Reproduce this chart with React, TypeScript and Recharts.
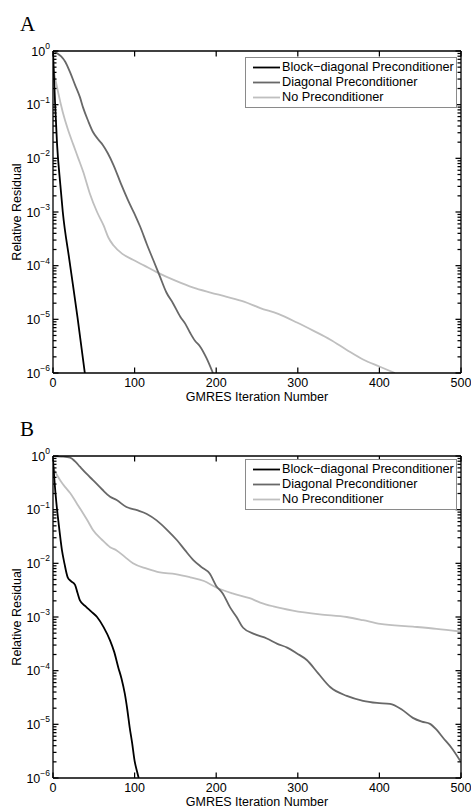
import React from 'react';
import { LineChart, Line, XAxis, YAxis, Legend, Label } from 'recharts';

// ---------- shared labels / ticks ----------
const seriesNames = ['Block−diagonal Preconditioner', 'Diagonal Preconditioner', 'No Preconditioner'];
const seriesColors = ['#000000', '#686868', '#bfbfbf'];
const xTicks = [0, 100, 200, 300, 400, 500];
const yMajorTicks = [1e-6, 1e-5, 1e-4, 1e-3, 1e-2, 1e-1, 1];
const yMinorMultipliers = [2, 3, 4, 5, 6, 7, 8, 9];
const xLabel = 'GMRES Iteration Number';
const yLabel = 'Relative Residual';

// ---------- Panel A ----------
const aBlockIter = [0, 1, 2.5, 5, 9, 12, 20, 30, 39];
const aBlockRes = [1, 0.4, 0.11, 0.018, 3.2e-3, 1e-3, 1.3e-4, 1.1e-5, 1e-6];

const aDiagIter = [0, 5, 10, 15, 21, 27, 33, 37, 43, 49, 55, 61, 67, 74, 84, 94, 101, 107, 115, 123, 131, 139, 147, 156, 162, 168, 174, 180, 188, 196];
const aDiagRes = [1, 0.912, 0.794, 0.631, 0.398, 0.234, 0.138, 0.0871, 0.0501, 0.0309, 0.0229, 0.0178, 0.0126, 7.59e-3, 3.16e-3, 1.41e-3, 8.51e-4, 5.25e-4, 2.51e-4, 1.26e-4, 6.31e-5, 3.16e-5, 2.0e-5, 1.12e-5, 8.32e-6, 5.62e-6, 3.98e-6, 3.16e-6, 1.91e-6, 1e-6];

const aNoneIter = [0, 2, 6, 12, 18, 25, 31, 37, 45, 54, 62, 68, 74, 85, 98, 112, 127, 150, 172, 193, 213, 234, 254, 276, 299, 320, 340, 360, 380, 400, 419];
const aNoneRes = [0.562, 0.355, 0.178, 0.0724, 0.0355, 0.0178, 0.01, 5.62e-3, 2.24e-3, 1e-3, 5.62e-4, 3.31e-4, 2.4e-4, 1.66e-4, 1.29e-4, 1e-4, 7.59e-5, 5.25e-5, 3.89e-5, 3.16e-5, 2.63e-5, 2.14e-5, 1.62e-5, 1.26e-5, 8.71e-6, 6.03e-6, 4.17e-6, 2.69e-6, 1.78e-6, 1.32e-6, 1e-6];

// ---------- Panel B ----------
const bBlockIter = [0, 2, 4, 6, 8, 11, 14, 18, 22, 27, 30, 33, 40, 47, 54, 62, 70, 75, 80, 84, 88, 91, 94, 97, 100, 103, 105];
const bBlockRes = [0.851, 0.316, 0.141, 0.0724, 0.0398, 0.0174, 0.01, 5.5e-3, 4.68e-3, 3.98e-3, 2.82e-3, 2.04e-3, 1.58e-3, 1.26e-3, 1e-3, 6.46e-4, 3.63e-4, 2.24e-4, 1.15e-4, 7.08e-5, 3.72e-5, 1.91e-5, 8.71e-6, 4.47e-6, 2.09e-6, 1.32e-6, 1e-6];

const bDiagIter = [0, 10, 21, 27, 33, 41, 49, 60, 70, 78, 90, 103, 115, 127, 140, 152, 162, 172, 182, 192, 200, 208, 217, 225, 233, 247, 262, 275, 287, 299, 311, 325, 340, 360, 380, 397, 413, 427, 441, 452, 462, 470, 478, 489, 499];
const bDiagRes = [1, 0.977, 0.933, 0.794, 0.631, 0.468, 0.355, 0.24, 0.174, 0.151, 0.112, 0.0977, 0.0832, 0.0631, 0.0417, 0.0269, 0.0174, 0.0115, 8.51e-3, 6.46e-3, 3.8e-3, 2.75e-3, 1.51e-3, 1e-3, 6.31e-4, 4.79e-4, 3.98e-4, 3.16e-4, 2.69e-4, 2.09e-4, 1.58e-4, 8.91e-5, 4.9e-5, 3.39e-5, 2.75e-5, 2.51e-5, 2.4e-5, 1.91e-5, 1.32e-5, 1.12e-5, 1.02e-5, 7.94e-6, 5.62e-6, 3.55e-6, 2.09e-6];

const bNoneIter = [0, 5, 10, 15, 21, 29, 37, 43, 49, 60, 70, 78, 88, 98, 115, 131, 150, 168, 185, 200, 220, 241, 254, 270, 294, 327, 360, 380, 401, 441, 470, 499];
const bNoneRes = [0.603, 0.437, 0.331, 0.263, 0.204, 0.132, 0.0851, 0.0603, 0.0417, 0.0275, 0.02, 0.0174, 0.0132, 0.01, 7.94e-3, 6.76e-3, 6.31e-3, 5.5e-3, 4.68e-3, 3.55e-3, 2.75e-3, 2.24e-3, 1.86e-3, 1.58e-3, 1.32e-3, 1.12e-3, 1e-3, 8.71e-4, 7.41e-4, 6.61e-4, 6.03e-4, 5.37e-4];

// ---------- helpers ----------
const FONT = '"Liberation Sans", Arial, Helvetica, sans-serif';
const FS = 12.5;
const TM = 4;

const yTicks: number[] = [];
yMajorTicks.forEach((m, i) => {
  yTicks.push(m);
  if (i < yMajorTicks.length - 1) yMinorMultipliers.forEach((k) => yTicks.push(k * m));
});

const toPoints = (xs: number[], ys: number[]) => xs.map((x, i) => ({ x, y: ys[i] }));

const isMajor = (v: number) => {
  const lg = Math.log10(v);
  return Math.abs(lg - Math.round(lg)) < 1e-6;
};

function LeftTick(props: any) {
  const { x, y, payload } = props;
  const v = payload.value;
  const major = isMajor(v);
  const e = Math.round(Math.log10(v));
  const ax = x + TM;
  return (
    <g>
      <line x1={ax} x2={ax + (major ? 5.5 : 3.5)} y1={y} y2={y} stroke="#000" strokeWidth={1.25} />
      {major && (
        <text x={ax - 3} y={y + 4.5} textAnchor="end" fontFamily={FONT} fontSize={FS} fill="#000">
          10
          <tspan dy={-6.5} fontSize={8.5}>{e === 0 ? '0' : '−' + -e}</tspan>
        </text>
      )}
    </g>
  );
}

function RightTick(props: any) {
  const { x, y, payload } = props;
  const major = isMajor(payload.value);
  const ax = x - TM;
  return <line x1={ax} x2={ax - (major ? 5.5 : 3.5)} y1={y} y2={y} stroke="#000" strokeWidth={1.25} />;
}

function BottomTick(props: any) {
  const { x, y, payload } = props;
  const ay = y - TM;
  return (
    <g>
      <line x1={x} x2={x} y1={ay} y2={ay - 5.5} stroke="#000" strokeWidth={1.25} />
      <text x={x} y={ay + 14} textAnchor="middle" fontFamily={FONT} fontSize={FS} fill="#000">
        {payload.value}
      </text>
    </g>
  );
}

function TopTick(props: any) {
  const { x, y } = props;
  const ay = y + TM;
  return <line x1={x} x2={x} y1={ay} y2={ay + 5.5} stroke="#000" strokeWidth={1.25} />;
}

function LegendBox(props: any) {
  const items = [...(props.payload || [])].sort(
    (a: any, b: any) => seriesNames.indexOf(a.value) - seriesNames.indexOf(b.value)
  );
  return (
    <div
      style={{
        border: '1px solid #8a8a8a',
        background: '#fff',
        padding: '2px 2px 2px 6px',
        fontFamily: FONT,
        fontSize: 12.7,
        lineHeight: '15px',
        boxSizing: 'border-box',
        width: 212,
      }}
    >
      {items.map((it: any) => (
        <div key={it.value} style={{ display: 'flex', alignItems: 'center', height: 15, whiteSpace: 'nowrap' }}>
          <svg width={30} height={15} style={{ display: 'block' }}>
            <line x1={1} x2={28} y1={7.5} y2={7.5} stroke={it.color} strokeWidth={1.8} />
          </svg>
          <span style={{ color: '#000' }}>{it.value}</span>
        </div>
      ))}
    </div>
  );
}

type SeriesDef = { iter: number[]; res: number[] };

function Panel({ title, series, height, legendTop }: { title: string; series: SeriesDef[]; height: number; legendTop: number }) {
  const bottomGap = height - 51 - 322 - 25;
  return (
    <div style={{ position: 'relative', width: 471, height }}>
      <div
        style={{
          position: 'absolute',
          left: 20,
          top: 14,
          fontFamily: '"Liberation Serif", "DejaVu Serif", serif',
          fontSize: 21,
          lineHeight: '21px',
          color: '#000',
        }}
      >
        {title}
      </div>
      <LineChart width={471} height={height} margin={{ top: 41, right: 0, bottom: bottomGap, left: 8 }}>
        <XAxis
          xAxisId="b"
          type="number"
          dataKey="x"
          domain={[0, 500]}
          ticks={xTicks}
          interval={0}
          tickSize={0}
          tickMargin={TM}
          tickLine={false}
          tick={<BottomTick />}
          axisLine={{ stroke: '#000', strokeWidth: 1.3 }}
          height={25}
          allowDataOverflow
        >
          <Label
            content={(p: any) => {
              const vb = p.viewBox || {};
              return (
                <text x={vb.x + vb.width / 2} y={vb.y + 27.5} textAnchor="middle" fontFamily={FONT} fontSize={FS} fill="#000">
                  {xLabel}
                </text>
              );
            }}
          />
        </XAxis>
        <XAxis
          xAxisId="t"
          orientation="top"
          type="number"
          dataKey="x"
          domain={[0, 500]}
          ticks={xTicks}
          interval={0}
          tickSize={0}
          tickMargin={TM}
          tickLine={false}
          tick={<TopTick />}
          axisLine={{ stroke: '#000', strokeWidth: 1.3 }}
          height={10}
          allowDataOverflow
        />
        <YAxis
          yAxisId="l"
          type="number"
          scale="log"
          domain={[1e-6, 1]}
          ticks={yTicks}
          interval={0}
          tickSize={0}
          tickMargin={TM}
          tickLine={false}
          tick={<LeftTick />}
          axisLine={{ stroke: '#000', strokeWidth: 1.3 }}
          width={45}
          allowDataOverflow
        >
          <Label
            content={(p: any) => {
              const vb = p.viewBox || {};
              const cx = vb.x + 13;
              const cy = vb.y + vb.height / 2;
              return (
                <text x={cx} y={cy} transform={`rotate(-90 ${cx} ${cy})`} textAnchor="middle" fontFamily={FONT} fontSize={FS} fill="#000">
                  {yLabel}
                </text>
              );
            }}
          />
        </YAxis>
        <YAxis
          yAxisId="r"
          orientation="right"
          type="number"
          scale="log"
          domain={[1e-6, 1]}
          ticks={yTicks}
          interval={0}
          tickSize={0}
          tickMargin={TM}
          tickLine={false}
          tick={<RightTick />}
          axisLine={{ stroke: '#000', strokeWidth: 1.3 }}
          width={10}
          allowDataOverflow
        />
        {[2, 1, 0].map((i) => (
          <Line
            key={i}
            xAxisId="b"
            yAxisId="l"
            data={toPoints(series[i].iter, series[i].res)}
            dataKey="y"
            name={seriesNames[i]}
            stroke={seriesColors[i]}
            strokeWidth={1.8}
            dot={false}
            activeDot={false}
            type="monotoneX"
            isAnimationActive={false}
          />
        ))}
        <Legend
          layout="vertical"
          align="center"
          verticalAlign="middle"
          content={<LegendBox />}
          wrapperStyle={{ position: 'absolute', left: 245, top: legendTop, width: 212, height: 'auto' }}
        />
      </LineChart>
    </div>
  );
}

export default function App() {
  return (
    <div style={{ position: 'absolute', left: 0, top: 0, width: 471, height: 808, background: '#fff', overflow: 'hidden' }}>
      <Panel
        title="A"
        height={405}
        legendTop={57}
        series={[
          { iter: aBlockIter, res: aBlockRes },
          { iter: aDiagIter, res: aDiagRes },
          { iter: aNoneIter, res: aNoneRes },
        ]}
      />
      <Panel
        title="B"
        height={403}
        legendTop={54}
        series={[
          { iter: bBlockIter, res: bBlockRes },
          { iter: bDiagIter, res: bDiagRes },
          { iter: bNoneIter, res: bNoneRes },
        ]}
      />
    </div>
  );
}
